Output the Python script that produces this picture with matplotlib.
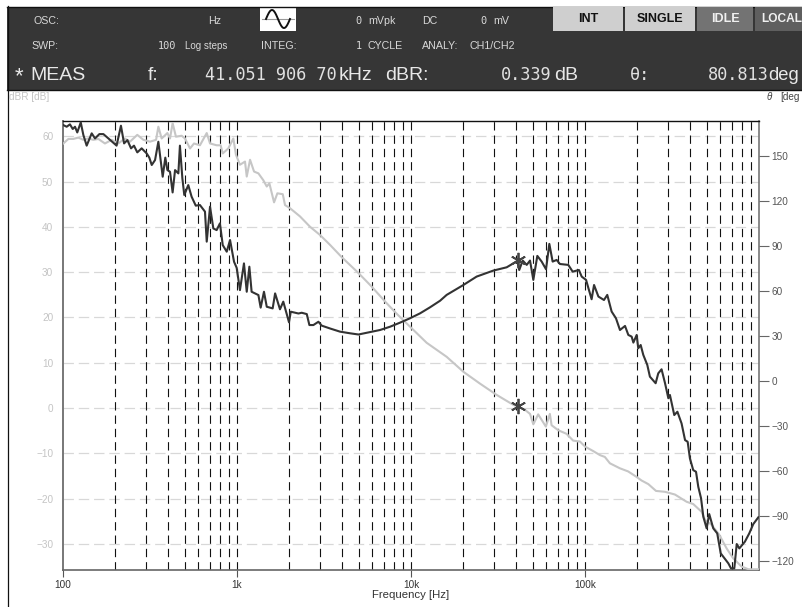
import numpy as np
import matplotlib
matplotlib.use("Agg")
import matplotlib.pyplot as plt
from matplotlib.patches import Rectangle

plt.rcParams['lines.scale_dashes'] = False
SANS = ['Liberation Sans', 'DejaVu Sans']
MONO = ['DejaVu Sans Mono']

# Phase curve: log10(frequency in Hz), phase in degrees
phase_logf = [2.002,2.021,2.040,2.056,2.069,2.082,2.102,2.117,2.136,2.165,2.184,2.209,2.232,2.261,2.308,2.333,2.351,2.370,2.391,2.408,
 2.427,2.452,2.481,2.496,2.510,2.529,2.548,2.573,2.588,2.600,2.615,2.630,2.644,2.663,2.672,2.686,2.697,2.720,2.739,2.763,
 2.787,2.816,2.826,2.845,2.864,2.883,2.902,2.918,2.941,2.960,2.983,2.998,3.017,3.040,3.056,3.071,3.084,3.123,3.136,3.155,
 3.171,3.205,3.219,3.247,3.266,3.299,3.309,3.353,3.372,3.401,3.416,3.439,3.468,3.487,3.535,3.592,3.650,3.698,3.765,3.822,
 3.880,3.937,3.994,4.052,4.109,4.167,4.205,4.301,4.377,4.473,4.550,4.611,4.622,4.642,4.665,4.684,4.703,4.726,4.751,4.776,
 4.795,4.814,4.837,4.856,4.904,4.929,4.965,4.981,5.006,5.038,5.052,5.077,5.109,5.128,5.153,5.178,5.201,5.230,5.249,5.268,
 5.278,5.297,5.306,5.320,5.335,5.358,5.373,5.406,5.421,5.440,5.460,5.479,5.488,5.513,5.531,5.555,5.575,5.590,5.603,5.622,
 5.638,5.651,5.667,5.680,5.699,5.714,5.737,5.760,5.780,5.810,5.824,5.839,5.858,5.872,5.887,5.919,5.944,5.967,5.996]
phase_deg = [170.6,169.5,171.1,168,169.5,165.7,172.4,164,156.9,165.1,161.7,164.6,164.6,161.7,156.9,170.2,158.4,160.6,155.1,156.9,
 152.4,155.1,151.7,148.9,144,147.3,159.5,136.2,148.9,140.6,139.5,125.7,140.6,138.4,156.9,135.1,124,130.6,122.9,116.9,
 117.3,112.9,92.9,116.2,101.7,100.6,105.1,90.6,86.2,94,79.5,75.5,60.6,78.4,59.5,76.2,59.5,57.3,48.9,59.5,
 49.5,48.4,58.4,47.8,52.9,39.1,46.2,45,45.5,44.6,37.3,37.3,39.5,36.9,35,32.9,31.8,31,32.6,34,
 36.2,38.9,41.8,45.1,49.1,53.5,57.4,64,69.6,73.6,75.8,80,74,80.3,77.4,80.3,67.4,83.4,79.6,74.5,
 91.4,79.6,80.7,78,77.4,72.9,74,69.6,67.4,54.5,64,56.3,54,57.4,46.3,41.8,34,36.7,30.7,29.6,
 25.6,30.7,21.8,24,17.4,10.7,2.9,-1.5,5.1,7.8,-1.5,-11.5,-9.3,-22.7,-20.5,-28.3,-39.4,-40.5,-51.6,-59.4,
 -60.5,-70.5,-78.2,-90.5,-98.2,-88.7,-98.2,-101.6,-114.9,-119.4,-121.6,-124.9,-124.9,-108.7,-111.6,-107.1,-101.6,-95.4,-90.9]

# Gain curve: log10(frequency in Hz), gain in dB
gain_logf = [2.002,2.031,2.059,2.088,2.117,2.146,2.174,2.203,2.241,2.280,2.318,2.356,2.385,2.427,2.462,2.500,2.535,2.548,2.567,2.600,
 2.615,2.630,2.649,2.682,2.701,2.730,2.753,2.787,2.826,2.845,2.883,2.906,2.918,2.950,2.979,2.994,3.017,3.046,3.056,3.075,
 3.098,3.123,3.151,3.171,3.186,3.213,3.232,3.263,3.276,3.305,3.362,3.420,3.477,3.535,3.602,3.698,3.774,3.851,3.918,4.004,
 4.090,4.205,4.301,4.396,4.492,4.588,4.613,4.655,4.684,4.703,4.731,4.775,4.798,4.808,4.846,4.894,4.932,4.971,5.000,5.047,
 5.086,5.114,5.143,5.200,5.248,5.296,5.325,5.364,5.408,5.460,5.517,5.584,5.622,5.670,5.690,5.728,5.772,5.814,5.852,5.900,5.939,5.996]
gain_db = [58.4,59.4,59.4,59.7,59.2,59.5,59.2,59.4,58.4,59.2,58.4,59.5,58.8,60.3,59.2,58.8,59.2,62.1,59.5,60.7,
 59.5,62.9,59.9,60.1,59.5,57.3,58.4,58,60.7,58.4,58,58,56.2,57.3,59.5,55.9,53.7,54.4,51.1,54.8,
 52.2,51.8,50.3,48.9,49.6,45.4,47.4,47.2,44.8,44.1,42.3,40,38.2,36,33.3,29.8,26.8,23.5,20.8,17.6,
 14.4,11.3,8,5.4,2.9,0.7,0.34,-0.4,-1.3,-3.6,-1.4,-4.1,-1.3,-3.8,-4.9,-5.7,-7.2,-7.4,-8.5,-9.5,
 -10.4,-10.8,-12.2,-13.3,-14,-15.2,-16,-16.8,-18.3,-18.5,-19.1,-20.7,-21.2,-22.9,-24.7,-25.8,-28,-31,-33.2,-35,-35.6,-35.6]

marker_freq = 41051.9067
marker_db = 0.339
marker_deg = 80.813

db_ticks = [-30,-20,-10,0,10,20,30,40,50,60]
deg_ticks = [-120,-90,-60,-30,0,30,60,90,120,150]
freq_ticks = [100,1000,10000,100000]
freq_labels = ['100','1k','10k','100k']
grid_freqs = [m*10**e for e in (2,3,4,5) for m in range(2,10)] + [1000,10000,100000]

W, H = 802, 607
fig = plt.figure(figsize=(W/100, H/100), dpi=100, facecolor='white')

# Instrument panel drawn on a pixel-coordinate overlay
ov = fig.add_axes([0,0,1,1], zorder=0)
ov.set_xlim(0,W); ov.set_ylim(H,0); ov.axis('off')
ov.add_patch(Rectangle((7,7),W-7,83,fc='#363636',ec='none'))
ov.plot([7,W],[6.5,6.5],color='#111111',lw=1)
ov.plot([7,W],[90,90],color='#111111',lw=1)
ov.plot([7.5,7.5],[6,H],color='#111111',lw=0.9)
ov.add_patch(Rectangle((260,7),36,24,fc='white',ec='none'))
ov.plot([262,294],[19,19],color='#999999',lw=0.8)
sx = np.linspace(266,290,60)
ov.plot(sx,19-9*np.sin((sx-266)/24*2*np.pi),color='#111111',lw=1.4)
for x0,x1,fc,tc,label in [(553,623,'#cfcfcf','#111111','INT'),(625,695,'#cfcfcf','#111111','SINGLE'),
                          (697,753,'#737373','#f0f0f0','IDLE'),(755,803,'#5f5f5f','#f0f0f0','LOCAL')]:
    is_local = label == 'LOCAL'
    ov.text(761 if is_local else x0+(x1-x0)/2, 19, label, color=tc, fontsize=8.6 if is_local else 9, fontweight='bold',
            family=SANS, ha='left' if is_local else 'center', va='center', zorder=3)
    ov.add_patch(Rectangle((x0,7),x1-x0,24,fc=fc,ec='none',zorder=2))
small = dict(color='#d8d8d8', fontsize=7.7, va='center', family=SANS)
smono = dict(color='#d8d8d8', fontsize=7.4, va='center', family=MONO)
ov.text(33,20.5,'OSC:',**small)
ov.text(208,20.5,'Hz',**small)
ov.text(355,20.5,'0',**smono)
ov.text(368,20.5,'mVpk',**small)
ov.text(422,20.5,'DC',**small)
ov.text(480,20.5,'0',**smono)
ov.text(493,20.5,'mV',**small)
ov.text(31,46,'SWP:',**small)
ov.text(158,46,'100',**smono)
ov.text(185,46,'Log steps',color='#d8d8d8',fontsize=7.0,va='center',family=SANS)
ov.text(261,46,'INTEG:',**small)
ov.text(356,46,'1',**smono)
ov.text(368,46,'CYCLE',**small)
ov.text(422,46,'ANALY:',**small)
ov.text(470,46,'CH1/CH2',**small)
big = dict(color='#e8e8e8', fontsize=14, va='center', family=SANS)
bmono = dict(color='#e0e0e0', fontsize=12.2, va='center', family=MONO)
ov.text(15,77,'*',color='#e8e8e8',fontsize=16,va='center',family=SANS)
ov.text(30,75,'MEAS',**big)
ov.text(148,75,'f:',**big)
ov.text(205,75,'41.051 906 70',**bmono)
ov.text(339,75,'kHz',**big)
ov.text(385,75,'dBR:',**big)
ov.text(501,75,'0.339',**bmono)
ov.text(554,75,'dB',**big)
ov.text(630,75,'θ:',**bmono)
ov.text(708,75,'80.813',**bmono)
ov.text(768,75,'deg',color='#e8e8e8',fontsize=13.2,va='center',family=SANS)
ov.text(9,97,'dBR [dB]',color='#c4c4c4',fontsize=7.2,va='center',family=SANS)
ov.text(767,97,'θ',color='#444444',fontsize=7,va='center',family=SANS,style='italic')
ov.text(780,97,'[deg',color='#444444',fontsize=7.2,va='center',family=SANS)

# Plot area
L,R,T,B = 63,759,121,570
ax = fig.add_axes([L/W, 1-B/H, (R-L)/W, (B-T)/H], zorder=2)
ax.set_xscale('log')
ax.set_xlim(100,1e6)
ax.set_ylim(-35.76,63.36)
for f in grid_freqs:
    ax.axvline(f,color='#111111',lw=0.8,ls=(0,(6,3.6)),zorder=2)
for d in db_ticks:
    ax.axhline(d,color='#d8d8d8',lw=0.9,ls=(0,(7.5,3.5)),zorder=1)
ax.plot(10**np.array(gain_logf),gain_db,color='#c6c6c6',lw=1.5,zorder=3)
ax.plot([marker_freq],[marker_db],ls='none',marker=(6,2,0),ms=11,mew=1.3,color='#444444',zorder=5)
ax.set_xticks(freq_ticks); ax.set_xticklabels(freq_labels)
ax.xaxis.set_minor_locator(matplotlib.ticker.NullLocator())
ax.tick_params(axis='x',length=5,width=0.8,color='#555555',pad=2,labelsize=7.2,labelcolor='#333333')
ax.set_yticks(db_ticks)
ax.set_yticklabels([str(d).replace('-','\u2212') for d in db_ticks])
ax.tick_params(axis='y',length=0,pad=7,labelsize=7.2,labelcolor='#c4c4c4')
for lab in ax.get_xticklabels()+ax.get_yticklabels():
    lab.set_family(SANS)
ax.set_xlabel('Frequency [Hz]',fontsize=8.2,color='#333333',labelpad=0,family=SANS)
ax.spines['top'].set(color='#111111',lw=1)
ax.spines['left'].set(color='#777777',lw=1.4)
ax.spines['bottom'].set(color='#666666',lw=1.2)
ax.spines['right'].set(color='#777777',lw=1.2)

ax2 = ax.twinx()
ax2.set_ylim(-126,173.33)
ax2.plot(10**np.array(phase_logf),phase_deg,color='#333333',lw=1.5,zorder=4)
ax2.plot([marker_freq],[marker_deg],ls='none',marker=(6,2,0),ms=11,mew=1.3,color='#444444',zorder=5)
ax2.set_yticks(deg_ticks)
ax2.set_yticklabels([str(d).replace('-','\u2212') for d in deg_ticks])
ax2.tick_params(axis='y',length=7,width=0.8,color='#666666',pad=2,labelsize=7.2,labelcolor='#555555')
for lab in ax2.get_yticklabels():
    lab.set_family(SANS)
for s in ax2.spines.values():
    s.set_visible(False)

fig.savefig('out.png',dpi=100)
